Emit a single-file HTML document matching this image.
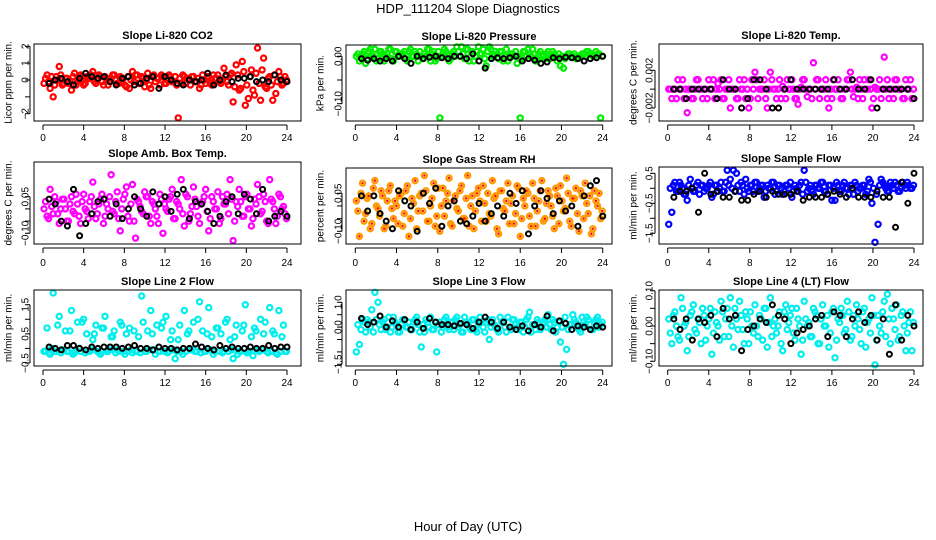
<!DOCTYPE html>
<html><head><meta charset="utf-8"><style>
body{margin:0;background:#fff}
svg{display:block;font-family:"Liberation Sans",sans-serif}
</style></head><body>
<svg id="c" width="936" height="540" viewBox="0 0 936 540">
<text x="468" y="13" text-anchor="middle" font-size="13">HDP_111204  Slope Diagnostics</text>
<text x="468" y="531" text-anchor="middle" font-size="13">Hour of Day (UTC)</text>
</svg>
<script>
const HOURS=[0.1,0.4,0.7,1.0,1.3,1.6,1.9,2.2,2.5,2.8,3.1,3.4,3.7,4.0,4.3,4.6,4.9,5.2,5.5,5.8,6.1,6.4,6.7,7.0,7.3,7.6,7.9,8.2,8.5,8.8,9.1,9.4,9.7,10.0,10.3,10.6,10.9,11.2,11.5,11.8,12.1,12.4,12.7,13.0,13.3,13.6,13.9,14.2,14.5,14.8,15.1,15.4,15.7,16.0,16.3,16.6,16.9,17.2,17.5,17.8,18.1,18.4,18.7,19.0,19.3,19.6,19.9,20.2,20.5,20.8,21.1,21.4,21.7,22.0,22.3,22.6,22.9,23.2,23.5,23.8];
const HOURS2=[0.25,0.55,0.85,1.15,1.45,1.75,2.05,2.35,2.65,2.95,3.25,3.55,3.85,4.15,4.45,4.75,5.05,5.35,5.65,5.95,6.25,6.55,6.85,7.15,7.45,7.75,8.05,8.35,8.65,8.95,9.25,9.55,9.85,10.15,10.45,10.75,11.05,11.35,11.65,11.95,12.25,12.55,12.85,13.15,13.45,13.75,14.05,14.35,14.65,14.95,15.25,15.55,15.85,16.15,16.45,16.75,17.05,17.35,17.65,17.95,18.25,18.55,18.85,19.15,19.45,19.75,20.05,20.35,20.65,20.95,21.25,21.55,21.85,22.15,22.45,22.75,23.05,23.35,23.65,23.95];
const BHOURS=[0.6,1.2,1.8,2.4,3.0,3.6,4.2,4.8,5.4,6.0,6.6,7.2,7.8,8.4,9.0,9.6,10.2,10.8,11.4,12.0,12.6,13.2,13.8,14.4,15.0,15.6,16.2,16.8,17.4,18.0,18.6,19.2,19.8,20.4,21.0,21.6,22.2,22.8,23.4,24.0];
const X_TICKS=[0,4,8,12,16,20,24];
const co2=[-0.2,0.3,-0.5,-1.0,0.2,0.8,-0.3,0.1,-0.2,-0.6,0.4,-0.1,0.3,-0.3,0.2,0.1,0.5,-0.2,0.3,-0.1,0.2,-0.3,0.1,0.3,-0.2,0.2,0.1,-0.4,-0.5,0.5,0.3,-0.2,0.2,-0.4,0.4,-0.5,0.3,0.1,-0.3,0.2,-0.2,0.3,-0.1,0.2,-2.25,-0.2,0.2,0.1,-0.3,0.2,-0.1,-0.5,0.3,-0.2,0.2,-0.3,0.1,0.3,-0.2,0.7,-0.1,0.3,-1.3,0.9,-0.6,1.1,-1.5,-1.1,0.6,-0.9,1.9,-1.2,1.3,-0.5,0.2,-1.2,-0.8,0.5,-0.3,0.2];
const co2Extra=[0.1,-0.1,0.2,-0.3,0.0,0.3,-0.2,0.1,-0.1,0.2,-0.3,0.0,0.2,-0.2,0.1,0.3,-0.1,0.0,0.2,-0.3,0.1,-0.1,0.3,0.0,-0.2,0.1,-0.3,0.2,0.0,-0.1,0.3,-0.2,0.1,0.0,-0.3,0.2,-0.1,0.1,0.3,-0.2,0.0,0.2,-0.1,-0.3,0.1,0.3,-0.2,0.0,0.2,-0.1,0.1,-0.3,0.0,0.2,-0.2,0.3,0.1,-0.1,0.0,0.2,-0.3,0.4,-0.4,0.3,-0.5,0.5,-0.3,0.2,-0.6,0.4,-0.2,0.6,-0.4,0.1,-0.3,0.3,-0.1,0.2,-0.2,0.0];
const co2B=[-0.2,0.0,0.1,-0.1,-0.3,0.1,0.4,0.2,0.1,0.2,-0.1,-0.3,0.1,0.2,-0.3,-0.2,0.1,0.2,-0.5,0.2,0.0,-0.2,-0.3,0.0,-0.1,0.0,0.4,-0.3,0.0,0.3,-0.1,0.1,0.1,0.2,-0.1,0.0,-0.1,0.3,0.0,-0.1];
const pres=[0.0,-0.01,0.005,-0.015,0.01,0.0,0.015,-0.005,0.01,-0.01,0.005,0.015,-0.01,0.01,0.0,0.005,-0.005,0.01,0.0,0.01,-0.01,0.0,0.005,0.015,-0.01,0.01,-0.005,-0.13,0.0,0.01,-0.01,0.005,0.0,0.01,0.02,-0.005,0.015,0.0,-0.01,0.01,0.005,0.015,-0.02,0.02,0.0,0.01,-0.005,0.01,0.0,-0.01,0.005,0.0,-0.015,-0.13,0.01,0.0,0.005,0.015,-0.01,0.005,0.0,-0.005,0.01,0.0,0.005,-0.01,-0.02,-0.025,0.0,0.005,0.0,-0.005,0.0,0.005,0.0,0.01,0.005,0.0,0.005,-0.13];
const presExtra=[0.005,0.0,0.01,-0.005,0.015,0.0,-0.01,0.01,0.005,0.0,0.015,-0.005,0.01,0.0,0.005,0.01,-0.01,0.015,0.0,0.005,0.01,-0.005,0.0,0.015,0.005,-0.01,0.01,0.0,0.015,0.005,-0.005,0.01,0.02,0.0,0.005,0.015,-0.01,0.01,0.0,0.02,0.005,-0.005,0.01,0.015,0.0,0.005,0.01,-0.01,0.015,0.0,0.005,0.01,0.0,-0.005,0.01,0.015,0.0,0.005,-0.01,0.01,0.0,0.005,-0.005,0.01,0.0,0.005,0.0,-0.005,0.005,0.0,0.005,0.0,0.0,0.005,0.01,0.005,0.0,0.01,0.005,0.0];
const presB=[-0.005,-0.008,-0.005,-0.01,-0.005,-0.01,0.0,-0.005,-0.015,0.0,-0.005,-0.002,0.0,-0.003,-0.005,0.0,0.0,-0.005,0.005,-0.01,-0.025,-0.005,-0.003,-0.005,-0.003,0.0,-0.01,-0.005,-0.008,-0.015,-0.012,-0.003,-0.005,-0.002,-0.003,-0.005,-0.01,-0.005,-0.003,0.0];
const temp=[0,-0.001,0,0.001,0,-0.001,-0.0025,0,-0.001,0.001,0,-0.001,0,0.001,0,-0.001,0.0006,0.001,-0.001,0,-0.002,0,-0.001,0.001,0,-0.001,-0.002,0.001,0.0018,-0.001,0,0.001,-0.002,0.0018,0,-0.001,0.001,0.0003,-0.001,0,0.001,-0.001,-0.0016,0.0002,0.001,-0.0008,0,0.0028,0.001,-0.001,0,0.001,-0.002,-0.001,0,0.001,-0.001,0,0.001,0.0018,-0.0008,0.0002,0.001,-0.001,0,0.001,-0.002,0.0002,0,-0.001,0.0034,0.001,0,-0.001,0.001,0,-0.001,0.001,0,-0.001];
const tempExtra=[0,0,-0.001,0,0.001,0,0,-0.001,0,0.001,0,0,-0.001,0,0.001,0,0,-0.001,0,0.001,0,0,-0.001,0,0.001,0,-0.001,0,0.001,0,0,-0.001,0,0.001,0,0,-0.001,0,0.001,0,0,-0.001,0,0.001,0,0,-0.001,0,0.001,0,0,-0.001,0,0.001,0,0,-0.001,0,0.001,0,0,-0.001,0,0.001,0,0,-0.001,0,0.001,0,0,-0.001,0,0.001,0,0,-0.001,0,0.001,0];
const tempB=[0,0,-0.001,0,0,0,0,-0.001,0.001,0,0,-0.002,-0.001,0.001,0.001,0,-0.002,-0.002,0,0.001,0,0,0,0,0,0,0.001,0,0,0.001,0,0,0.001,-0.002,0,0,0,0,0,-0.001];
const amb=[0.0,-0.03,0.08,-0.02,0.03,-0.06,0.04,0.0,-0.05,0.05,-0.02,0.02,-0.06,0.06,-0.01,0.03,0.11,-0.04,0.02,0.06,-0.03,0.0,0.14,-0.02,0.07,-0.09,0.04,0.09,-0.05,0.1,-0.12,0.03,-0.01,0.07,0.05,-0.06,0.02,-0.03,0.06,-0.1,0.0,0.04,0.08,-0.04,0.02,0.12,-0.07,0.05,-0.02,0.09,0.01,-0.06,0.03,0.08,-0.09,0.05,0.0,0.07,-0.04,0.02,0.06,0.12,-0.13,0.03,0.08,-0.03,0.05,0.0,-0.07,0.04,0.1,-0.02,0.06,-0.05,0.12,0.03,-0.06,0.06,0.0,-0.02];
const ambExtra=[0.03,-0.04,0.01,0.05,-0.02,0.0,0.04,-0.05,0.02,-0.01,0.06,-0.03,0.03,0.0,-0.04,0.05,0.01,-0.02,0.04,-0.06,0.02,0.05,-0.01,0.03,-0.04,0.0,0.06,-0.03,0.02,-0.05,0.04,0.01,-0.02,0.05,-0.03,0.03,0.0,-0.06,0.04,0.02,-0.01,0.05,-0.04,0.03,0.0,-0.02,0.06,-0.05,0.01,0.04,-0.03,0.02,0.05,-0.01,-0.04,0.03,0.0,-0.06,0.05,0.02,-0.02,0.04,-0.05,0.01,0.03,-0.03,0.06,0.0,-0.04,0.02,0.05,-0.01,0.03,-0.06,0.04,0.0,-0.03,0.05,0.01,-0.04];
const ambB=[0.04,0.02,-0.05,-0.07,0.08,-0.11,-0.06,-0.02,0.03,0.04,-0.03,0.02,-0.04,0.0,0.05,0.0,-0.03,0.07,0.02,0.05,-0.01,0.06,0.08,-0.04,0.03,0.02,-0.01,-0.06,-0.03,0.03,0.05,-0.02,0.06,0.04,-0.02,0.08,-0.05,-0.03,-0.01,-0.03];
const rh=[0.02,-0.12,0.09,-0.03,0.04,-0.07,0.1,-0.01,0.06,-0.09,0.02,0.08,-0.05,0.0,0.04,-0.08,0.06,-0.12,0.03,0.1,-0.02,0.05,0.12,-0.06,0.0,0.09,-0.04,-0.1,0.07,0.02,0.11,-0.08,0.04,-0.02,0.08,-0.05,0.12,0.0,-0.09,0.05,0.02,0.08,-0.06,-0.03,0.1,0.04,-0.11,0.06,-0.02,0.09,0.01,-0.07,0.08,-0.12,0.03,0.06,-0.04,0.09,-0.08,0.02,0.1,-0.05,0.06,0.0,-0.09,0.04,0.08,-0.02,0.11,-0.06,0.03,0.07,-0.1,0.04,0.09,-0.03,-0.11,0.06,0.0,-0.05];
const rhExtra=[-0.02,0.05,-0.06,0.03,-0.09,0.07,0.0,-0.04,0.04,-0.08,0.06,-0.01,0.02,-0.07,0.05,-0.03,0.08,-0.05,0.01,-0.09,0.04,-0.02,0.06,-0.06,0.03,-0.08,0.07,0.0,-0.04,0.05,-0.07,0.02,-0.01,0.06,-0.05,0.03,-0.08,0.04,-0.02,0.07,-0.06,0.01,0.05,-0.04,0.03,-0.09,0.06,-0.01,0.02,-0.07,0.04,-0.03,0.07,-0.05,0.0,0.05,-0.08,0.03,-0.02,0.06,-0.06,0.01,0.04,-0.04,0.07,-0.07,0.02,-0.01,0.05,-0.08,0.03,-0.03,0.06,-0.05,0.01,0.04,-0.09,0.02,0.05,-0.02];
const rhB=[0.04,-0.02,0.04,-0.03,-0.06,-0.09,0.06,0.02,0.0,-0.1,0.05,0.01,0.07,-0.08,0.0,0.02,-0.06,-0.07,-0.04,0.01,-0.06,-0.03,0.0,-0.04,0.05,0.01,0.06,-0.11,0.0,0.06,0.03,-0.03,0.02,-0.02,0.0,-0.08,0.04,0.08,0.1,-0.04];
const flow=[-1.2,-0.8,0.2,-0.1,0.1,-0.2,-0.4,0.3,-0.1,0.1,-0.2,0.1,0.0,0.1,-0.3,0.1,-0.1,0.2,-0.1,0.6,0.3,0.6,0.5,-0.1,0.1,0.3,-0.1,0.1,0.2,-0.1,0.1,-0.3,0.1,0.0,0.2,-0.1,0.1,-0.2,0.1,0.0,-0.3,0.1,-0.1,0.2,0.6,-0.1,0.1,-0.2,0.1,0.0,0.2,-0.1,0.1,-0.4,-0.4,0.1,-0.1,0.2,0.0,0.1,-0.2,0.1,0.0,0.1,-0.2,0.3,-0.5,-1.8,-1.2,0.3,0.1,-0.1,0.2,0.0,0.1,-0.1,0.2,0.0,0.1,0.0];
const flowExtra=[0.0,0.1,-0.1,0.2,0.0,-0.2,0.1,0.0,-0.1,0.2,0.1,-0.1,0.0,0.2,-0.2,0.1,0.0,-0.1,0.2,0.1,0.0,-0.1,0.1,0.2,-0.2,0.0,0.1,-0.1,0.2,0.0,0.1,-0.1,0.0,0.2,-0.2,0.1,0.0,-0.1,0.1,0.2,-0.1,0.0,0.1,-0.2,0.2,0.0,-0.1,0.1,0.0,0.2,-0.1,-0.2,0.1,0.0,0.2,-0.1,0.1,0.0,-0.2,0.1,0.2,-0.1,0.0,0.1,-0.1,0.2,0.0,-0.2,0.1,0.2,0.0,-0.1,0.1,0.2,-0.1,0.0,0.1,0.2,0.0,0.1];
const flowB=[-0.3,-0.1,-0.1,0.0,-0.8,0.5,-0.2,-0.1,-0.3,-0.3,-0.1,-0.4,-0.4,-0.2,-0.1,-0.3,-0.1,-0.2,-0.2,-0.2,-0.1,-0.4,-0.3,-0.3,-0.3,-0.2,-0.1,-0.2,-0.3,0.0,-0.3,-0.3,-0.3,-0.1,-0.3,-0.3,-1.3,0.2,-0.5,0.5];
const line2=[-0.1,0.7,-0.2,1.9,-0.1,1.1,-0.05,0.6,-0.1,1.3,-0.15,0.9,-0.1,1.0,0.5,-0.1,0.3,0.8,-0.15,0.7,1.1,-0.1,0.4,0.6,-0.05,0.9,-0.1,0.5,0.7,-0.15,-0.1,0.4,1.8,-0.1,0.6,1.3,-0.05,0.8,-0.1,0.9,1.1,-0.1,0.6,-0.35,0.3,-0.1,1.3,0.5,-0.05,0.9,-0.1,1.6,0.6,-0.1,1.4,0.4,-0.1,0.7,0.5,-0.1,1.0,0.3,-0.35,0.8,-0.1,0.6,1.5,-0.1,0.4,0.7,-0.05,1.0,0.5,-0.1,1.4,0.6,-0.15,1.3,0.4,-0.1];
const line2Extra=[-0.1,-0.15,0.0,-0.1,0.8,-0.15,-0.05,-0.1,0.6,-0.2,-0.1,0.0,0.9,-0.15,-0.1,-0.05,0.5,-0.1,-0.2,0.7,-0.1,-0.05,0.4,-0.15,-0.1,0.8,-0.2,-0.1,-0.05,0.6,-0.1,-0.15,0.9,-0.1,-0.05,0.5,-0.2,-0.1,0.7,-0.1,-0.15,0.3,-0.05,-0.1,0.8,-0.2,-0.1,0.6,-0.05,-0.1,1.0,-0.15,-0.1,0.5,-0.05,-0.2,0.7,-0.1,-0.15,0.9,-0.1,-0.05,0.4,-0.2,-0.1,0.8,-0.15,-0.1,-0.25,0.6,-0.1,-0.05,0.9,-0.15,-0.1,0.5,-0.2,-0.1,0.8,-0.1];
const line2B=[0.05,0.0,-0.05,0.1,0.1,0.0,-0.05,0.05,0.0,0.05,0.05,0.05,0.0,0.05,0.1,0.0,0.0,-0.05,0.05,0.0,0.0,-0.05,0.0,0.0,0.15,0.05,0.0,-0.05,0.1,0.0,0.05,0.0,0.0,0.05,0.0,0.0,0.1,0.0,0.05,0.05];
const line3=[-1.0,-0.7,0.3,-0.2,0.2,0.7,1.4,1.0,-0.1,0.3,0.0,-0.2,0.4,0.1,-0.2,0.3,0.0,0.2,-0.1,0.3,0.1,-0.8,-0.2,0.2,0.4,-0.1,-1.0,0.2,0.0,0.4,-0.1,0.2,0.3,0.0,-0.2,0.4,0.1,-0.1,0.3,-0.2,0.4,0.0,0.2,-0.5,0.3,0.0,-0.2,0.2,0.0,0.4,-0.1,0.3,0.0,0.2,-0.2,0.3,0.6,0.1,-0.1,0.2,0.0,0.3,0.5,-0.1,0.2,0.0,-0.6,-1.5,-0.9,0.1,0.5,0.2,-0.1,0.4,0.1,0.3,-0.1,0.2,0.4,0.1];
const line3Extra=[0.1,-0.1,0.2,0.3,0.0,-0.2,0.3,0.1,0.2,-0.1,0.4,0.0,0.2,-0.2,0.1,0.3,0.0,-0.1,0.2,0.4,-0.2,0.1,0.3,0.0,-0.1,0.2,0.1,-0.2,0.3,0.0,0.2,-0.1,0.4,0.1,-0.2,0.2,0.0,0.3,-0.1,0.1,0.2,-0.2,0.3,0.0,0.1,-0.1,0.4,0.2,-0.2,0.0,0.3,0.1,-0.1,0.2,0.0,0.4,-0.2,0.1,0.3,-0.1,0.2,0.0,0.1,0.3,-0.2,0.2,0.0,0.4,-0.1,0.1,0.3,0.0,-0.2,0.2,0.4,0.1,-0.1,0.3,0.0,0.2];
const line3B=[0.35,0.1,0.2,0.45,0.0,0.25,0.0,0.3,-0.1,0.2,-0.05,0.35,0.2,0.1,0.1,0.05,0.15,0.1,-0.05,0.2,0.4,0.2,-0.05,0.2,0.0,-0.1,0.05,-0.15,0.1,0.0,0.45,-0.15,0.25,0.15,-0.1,0.05,0.0,-0.1,0.05,0.0];
const line4=[0.02,-0.05,0.04,-0.03,0.08,0.0,-0.07,0.03,0.06,-0.02,0.01,0.05,-0.04,0.02,-0.08,0.04,0.0,0.07,-0.03,0.05,0.08,-0.06,0.02,0.07,-0.01,0.04,-0.05,0.0,0.06,-0.03,0.02,0.05,-0.06,0.08,0.0,-0.02,0.04,-0.07,0.06,0.01,0.05,-0.04,0.02,-0.08,0.07,0.0,-0.03,0.05,0.03,-0.05,0.06,0.0,-0.06,0.04,-0.09,0.02,0.05,-0.02,0.07,-0.04,0.03,0.06,-0.01,0.04,-0.06,0.02,0.08,-0.11,0.03,-0.02,0.07,0.09,-0.05,0.02,0.06,-0.03,0.04,-0.07,0.01,-0.07];
const line4Extra=[-0.02,0.03,0.0,-0.04,0.05,0.01,-0.03,0.04,-0.01,0.02,-0.05,0.03,0.0,0.05,-0.02,0.01,-0.04,0.04,0.02,-0.03,0.0,0.05,-0.01,0.03,-0.05,0.02,0.04,-0.02,0.0,0.03,-0.04,0.05,0.01,-0.03,0.02,0.0,-0.05,0.04,-0.01,0.03,-0.02,0.05,0.0,-0.04,0.02,0.01,-0.03,0.04,-0.05,0.02,0.0,0.03,-0.02,0.05,-0.04,0.01,0.03,-0.01,0.04,-0.03,0.0,0.02,-0.05,0.05,0.01,-0.02,0.03,-0.04,0.0,0.04,-0.03,0.02,0.05,-0.01,-0.04,0.03,0.0,-0.02,0.04,0.01];
const line4B=[0.02,-0.01,0.02,-0.04,0.02,0.01,0.03,-0.03,0.05,0.02,0.03,-0.07,-0.01,0.0,0.02,0.01,0.06,0.03,0.02,-0.05,-0.02,-0.01,0.0,0.02,0.03,-0.03,0.04,0.03,-0.03,0.02,0.04,0.01,0.03,-0.04,0.02,-0.08,0.06,-0.04,0.03,0.0];

const NS='http://www.w3.org/2000/svg';
const svg=document.getElementById('c');
function mk(tag,at,parent){const e=document.createElementNS(NS,tag);for(const k in at)e.setAttribute(k,at[k]);(parent||svg).appendChild(e);return e;}
const COLS=[{bx0:34,bx1:301,x0:43,x24:287,yl:8,tl:25},{bx0:346,bx1:612,x0:355.3,x24:602.7,yl:320,tl:338},{bx0:659,bx1:923,x0:667.7,x24:914,yl:633,tl:649}];
const ROWS=[{tick:137},{tick:262},{tick:382}];
const panels=[
{name:'co2',title:'Slope Li-820 CO2',ylab:'Licor ppm per min.',col:0,row:0,top:44,bot:121,v1:2,p1:46.3,v2:-2,p2:113.7,ticks:[-2,-1,0,1,2],labels:['-2','','0','1','2'],c:'#ff0000',d:co2,e:co2Extra,b:co2B},
{name:'pressure',title:'Slope Li-820 Pressure',ylab:'kPa per min.',col:1,row:0,top:45,bot:121,v1:0,p1:56.3,v2:-0.1,p2:103.7,ticks:[-0.1,-0.05,0],labels:['-0.10','','0.00'],c:'#00ee00',d:pres,e:presExtra,b:presB},
{name:'temp',title:'Slope Li-820 Temp.',ylab:'degrees C per min.',col:2,row:0,top:44,bot:121,v1:0.002,p1:70.3,v2:-0.002,p2:108,ticks:[-0.002,0,0.002],labels:['-0.002','','0.002'],c:'#ff00ff',d:temp,e:tempExtra,b:tempB},
{name:'amb-box-temp',title:'Slope Amb. Box Temp.',ylab:'degrees C per min.',col:0,row:1,top:162,bot:244,v1:0.05,p1:196.7,v2:-0.1,p2:233.3,ticks:[-0.1,-0.05,0,0.05],labels:['-0.10','','','0.05'],c:'#ff00ff',d:amb,e:ambExtra,b:ambB},
{name:'gas-stream-rh',title:'Slope Gas Stream RH',ylab:'percent per min.',col:1,row:1,top:168,bot:244,v1:0.05,p1:193.3,v2:-0.1,p2:231.3,ticks:[-0.1,-0.05,0,0.05],labels:['-0.10','','','0.05'],c:'#ff9900',d:rh,e:rhExtra,b:rhB,inner:'#ff0000'},
{name:'sample-flow',title:'Slope Sample Flow',ylab:'ml/min per min.',col:2,row:1,top:167,bot:244,v1:0.5,p1:173.3,v2:-1.5,p2:233.3,ticks:[-1.5,-1,-0.5,0,0.5],labels:['-1.5','','-0.5','','0.5'],c:'#0000ff',d:flow,e:flowExtra,b:flowB},
{name:'line2-flow',title:'Slope Line 2 Flow',ylab:'ml/min per min.',col:0,row:2,top:290,bot:366,v1:1.5,p1:304.7,v2:-0.5,p2:363,ticks:[-0.5,0,0.5,1,1.5],labels:['-0.5','','0.5','','1.5'],c:'#00eeee',d:line2,e:line2Extra,b:line2B},
{name:'line3-flow',title:'Slope Line 3 Flow',ylab:'ml/min per min.',col:1,row:2,top:290,bot:366,v1:1.0,p1:302.3,v2:-1.5,p2:364.3,ticks:[-1.5,-1,-0.5,0,0.5,1],labels:['-1.5','','','0.0','','1.0'],c:'#00eeee',d:line3,e:line3Extra,b:line3B},
{name:'line4-flow',title:'Slope Line 4 (LT) Flow',ylab:'ml/min per min.',col:2,row:2,top:290,bot:366,v1:0.1,p1:290.7,v2:-0.1,p2:361.3,ticks:[-0.1,-0.05,0,0.05,0.1],labels:['-0.10','','0.00','','0.10'],c:'#00eeee',d:line4,e:line4Extra,b:line4B}
];
panels.forEach(p=>{
  const C=COLS[p.col],R=ROWS[p.row];
  const xs=h=>C.x0+(C.x24-C.x0)*h/24;
  const ys=v=>p.p1+(v-p.v1)*(p.p2-p.p1)/(p.v2-p.v1);
  const g=mk('g',{});
  
  
  const t=mk('text',{x:(C.bx0+C.bx1)/2,y:p.top-5,'text-anchor':'middle','font-size':11,'font-weight':'bold'},g);
  t.textContent=p.title;
  
  
  const cy=(p.top+p.bot)/2;
  const yl=mk('text',{x:C.yl,y:cy,'text-anchor':'middle','font-size':10,transform:`rotate(-90 ${C.yl} ${cy})`,dy:'0.35em'},g);
  yl.textContent=p.ylab;
  
  
  const pts=mk('g',{fill:'none'},g);
  
  
  function drawSet(hrs,vals){
    const n=Math.min(hrs.length,vals.length);
    for(let i=0;i<n;i++){
      const c=mk('circle',{cx:xs(hrs[i]),cy:ys(vals[i]),r:2.6,stroke:p.c,'stroke-width':2.2},pts);
      
      
      if(p.inner){const c2=mk('circle',{cx:xs(hrs[i]),cy:ys(vals[i]),r:1.2,fill:p.inner},pts);
        
        }
    }
  }
  drawSet(HOURS2,p.e);
  drawSet(HOURS,p.d);
  const bp=mk('g',{fill:'none'},g);
  
  
  const m=Math.min(BHOURS.length,p.b.length);
  for(let i=0;i<m;i++){
    const c=mk('circle',{cx:xs(BHOURS[i]),cy:ys(p.b[i]),r:2.5,stroke:'#000','stroke-width':2},bp);
    
    
  }
  const box=mk('rect',{x:C.bx0,y:p.top,width:C.bx1-C.bx0,height:p.bot-p.top,fill:'none',stroke:'#000','stroke-width':1},g);
  
  
  const xa=mk('g',{},g);
  
  
  mk('line',{x1:xs(X_TICKS[0]),x2:xs(X_TICKS[X_TICKS.length-1]),y1:p.bot+4,y2:p.bot+4,stroke:'#000'},xa);
  X_TICKS.forEach(v=>{
    mk('line',{x1:xs(v),x2:xs(v),y1:p.bot+4,y2:p.bot+9,stroke:'#000'},xa);
    const tl=mk('text',{x:xs(v),y:R.tick+4,'text-anchor':'middle','font-size':10},xa);
    tl.textContent=v;
    
    
  });
  const ya=mk('g',{},g);
  
  
  const tk=p.ticks;
  mk('line',{x1:C.bx0-4,x2:C.bx0-4,y1:ys(tk[0]),y2:ys(tk[tk.length-1]),stroke:'#000'},ya);
  tk.forEach((v,i)=>{
    const y=ys(v);
    mk('line',{x1:C.bx0-9,x2:C.bx0-4,y1:y,y2:y,stroke:'#000'},ya);
    if(p.labels[i]){
      const tl=mk('text',{x:C.tl,y:y,'text-anchor':'middle','font-size':10,transform:`rotate(-90 ${C.tl} ${y})`,dy:'0.35em'},ya);
      tl.textContent=p.labels[i].replace('-','\u2212');
      
      
    }
  });
});
</script>
</body></html>
